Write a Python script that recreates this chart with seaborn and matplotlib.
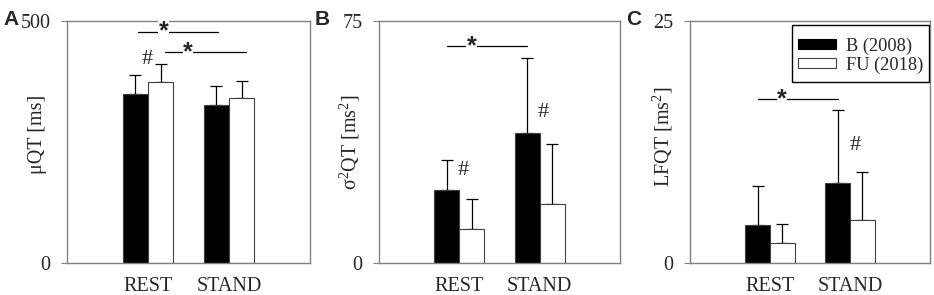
import numpy as np
import pandas as pd
import seaborn as sns
import matplotlib.pyplot as plt
from matplotlib.patches import Patch, Rectangle

# data
conditions = ["REST", "STAND"]
groups = ["B (2008)", "FU (2018)"]

mu_b = [349, 327]
mu_fu = [375, 340]
mu_b_sd = [39, 39]
mu_fu_sd = [36, 37]

var_b = [22.6, 40.3]
var_fu = [10.6, 18.4]
var_b_sd = [9.2, 23.3]
var_fu_sd = [9.1, 18.5]

lf_b = [3.96, 8.3]
lf_fu = [2.1, 4.41]
lf_b_sd = [4.0, 7.5]
lf_fu_sd = [1.9, 5.0]

ylabels = ["\u03bcQT [ms]", "\u03c3$^2$QT [ms$^2$]", "LFQT [ms$^2$]"]
ytops = [500, 75, 25]
letters = ["A", "B", "C"]

sns.set_style("white")
plt.rcParams["font.family"] = ["Liberation Serif", "DejaVu Serif"]
plt.rcParams["mathtext.fontset"] = "custom"
plt.rcParams["mathtext.rm"] = "Liberation Serif"
plt.rcParams["mathtext.it"] = "Liberation Serif"

fig = plt.figure(figsize=(9.34, 2.95), dpi=100)
lefts = [67 / 934, 379 / 934, 690 / 934]
widths = [243 / 934, 241 / 934, 240 / 934]
bottom = 32 / 295
height = 242 / 295
label_x = [-0.123, -0.12, -0.113]
label_y = [0.53, 0.5, 0.52]
fs = 14.5

panels = [
    (mu_b, mu_fu, mu_b_sd, mu_fu_sd),
    (var_b, var_fu, var_b_sd, var_fu_sd),
    (lf_b, lf_fu, lf_b_sd, lf_fu_sd),
]

axes = []
for i, (vb, vf, sb, sf) in enumerate(panels):
    ax = fig.add_axes([lefts[i], bottom, widths[i], height])
    axes.append(ax)
    df = pd.DataFrame({
        "cond": conditions * 2,
        "group": [groups[0]] * 2 + [groups[1]] * 2,
        "val": vb + vf,
        "sd": sb + sf,
    })
    sns.barplot(data=df, x="cond", y="val", hue="group", order=conditions,
                hue_order=groups, palette=["black", "white"], width=0.62,
                edgecolor="#404040", linewidth=0.8, errorbar=None,
                legend=False, ax=ax)
    bars = ax.patches[:4]
    xs = [b.get_x() + b.get_width() / 2 for b in bars]
    ys = [b.get_height() for b in bars]
    ax.errorbar(xs, ys, yerr=[np.zeros(4), df["sd"].values], fmt="none",
                ecolor="black", elinewidth=0.9, capsize=4, capthick=0.9,
                zorder=1)
    for b in bars:
        b.set_zorder(2)
    ax.set_xlim(-1, 2)
    ax.set_ylim(0, ytops[i])
    ax.set_yticks([0, ytops[i]])
    ax.set_yticklabels(["0", str(ytops[i])])
    ax.set_xlabel("")
    ax.set_ylabel(ylabels[i], fontsize=fs, va="center")
    ax.yaxis.set_label_coords(label_x[i], label_y[i])
    ax.tick_params(axis="y", length=4, width=0.8, color="#808080",
                   labelsize=fs, pad=8, left=True)
    ax.tick_params(axis="x", length=0, labelsize=fs, pad=10)
    for s in ax.spines.values():
        s.set_color("#808080")
        s.set_linewidth(1.0)
    fig.text(lefts[i] - 64 / 934, 0.965, letters[i], family="Liberation Sans",
             fontweight="bold", fontsize=15, ha="left", va="top")


def star_line(ax, x0, x1, xs, y):
    ax.plot([x0, x1], [y, y], color="black", lw=0.9, zorder=3)
    ax.text(xs, y, "*", family="Liberation Sans", fontweight="bold",
            fontsize=18, ha="center", va="center", zorder=4,
            bbox=dict(facecolor="white", edgecolor="none", pad=0.2))


hash_kw = dict(fontsize=16, ha="center", va="center", zorder=4)

# panel A
star_line(axes[0], -0.12, 0.86, 0.19, 478)
star_line(axes[0], 0.21, 1.21, 0.49, 435)
axes[0].text(-0.01, 421, "#", **hash_kw)

# panel B
star_line(axes[1], -0.15, 0.84, 0.15, 67.3)
axes[1].text(0.05, 28.8, "#", **hash_kw)
axes[1].text(1.04, 46.6, "#", **hash_kw)

# panel C
star_line(axes[2], -0.15, 0.85, 0.15, 16.9)
axes[2].text(1.07, 12.1, "#", **hash_kw)

# legend: box drawn separately so it can be taller than the entries
legax = axes[2]
legax.add_patch(Rectangle((0.425, 0.748), 0.571, 0.235, transform=legax.transAxes,
                          facecolor="white", edgecolor="black", lw=1.0,
                          zorder=5))
handles = [Patch(facecolor="black", edgecolor="black", lw=0.8),
           Patch(facecolor="white", edgecolor="#404040", lw=0.8)]
leg = legax.legend(handles, groups, loc="center", fontsize=13.2,
                   frameon=False, handlelength=2.1, handleheight=0.45,
                   handletextpad=0.5, borderpad=0, labelspacing=0.1,
                   borderaxespad=0, bbox_to_anchor=(0.71, 0.857))
leg.set_zorder(6)

fig.savefig("out.png", dpi=100)
